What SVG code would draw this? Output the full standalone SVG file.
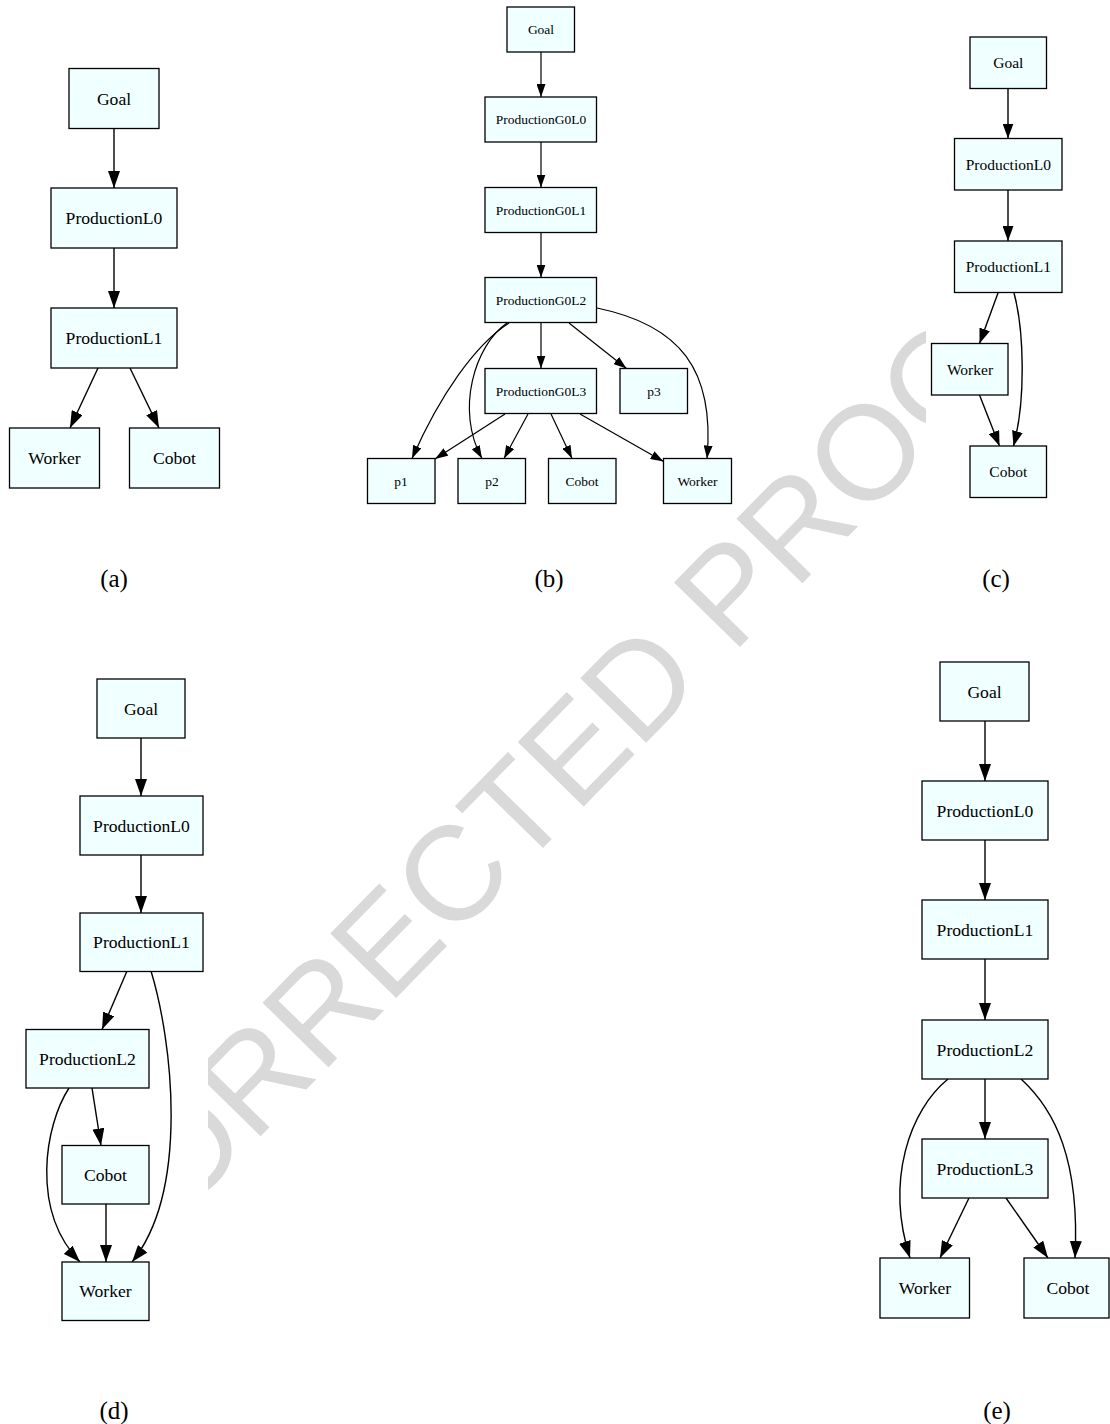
<svg xmlns="http://www.w3.org/2000/svg" width="1110" height="1424" viewBox="0 0 1110 1424">
<style>
.n rect{fill:#f0ffff;stroke:#000;stroke-width:1.3}
.n text{font-family:"Liberation Serif","Times New Roman",serif;text-anchor:middle;fill:#000}
.L text{font-size:17.6px}
.M text{font-size:15.5px}
.S text{font-size:13.5px}
.e path{fill:none;stroke:#000;stroke-width:1.4}
.eA path{marker-end:url(#arrA)}
.eC path{marker-end:url(#arrC)}
.eB path{marker-end:url(#arrB);stroke-width:1.2}
.cap{font-family:"Liberation Serif","Times New Roman",serif;font-size:25px;text-anchor:middle;fill:#000}
.wm{font-family:"Liberation Sans",Arial,sans-serif;font-size:134px;fill:#d9d9d9}
</style>
<defs>
<marker id="arrA" markerUnits="userSpaceOnUse" markerWidth="17" markerHeight="12" refX="17" refY="6" orient="auto"><path d="M0,0 L17,6 L0,12 Z" fill="#000"/></marker>
<marker id="arrC" markerUnits="userSpaceOnUse" markerWidth="15" markerHeight="11" refX="15" refY="5.5" orient="auto"><path d="M0,0 L15,5.5 L0,11 Z" fill="#000"/></marker>
<marker id="arrB" markerUnits="userSpaceOnUse" markerWidth="13" markerHeight="9" refX="13" refY="4.5" orient="auto"><path d="M0,0 L13,4.5 L0,9 Z" fill="#000"/></marker>
<clipPath id="wmclip"><rect x="208" y="0" width="718" height="1424"/></clipPath>
</defs>
<rect width="1110" height="1424" fill="#fff"/>
<g id="watermark" clip-path="url(#wmclip)">
<text class="wm" x="-23" y="1426" transform="rotate(-45.6 -23 1426)">UNCORRECTED PROOF</text>
</g>

<!-- Panel (a) -->
<g id="panel-a">
<g id="connectors-a" class="e eA">
<path d="M114,129 L114,188"/>
<path d="M114,248 L114,308"/>
<path d="M98,368 L70,428"/>
<path d="M130,368 L159,428"/>
</g>
<g id="a-goal" class="n L"><rect x="69" y="68.5" width="90" height="60"/><text x="114" y="104.5">Goal</text></g>
<g id="a-l0" class="n L"><rect x="51" y="188" width="126" height="60"/><text x="114" y="224">ProductionL0</text></g>
<g id="a-l1" class="n L"><rect x="51" y="308" width="126" height="60"/><text x="114" y="344">ProductionL1</text></g>
<g id="a-worker" class="n L"><rect x="9.5" y="428" width="90" height="60"/><text x="54.5" y="464">Worker</text></g>
<g id="a-cobot" class="n L"><rect x="129.5" y="428" width="90" height="60"/><text x="174.5" y="464">Cobot</text></g>
<text class="cap" x="114" y="587">(a)</text>
</g>

<!-- Panel (b) -->
<g id="panel-b">
<g id="connectors-b" class="e eB">
<path d="M541,52 L541,97"/>
<path d="M541,142 L541,187.5"/>
<path d="M541,232.5 L541,277.5"/>
<path d="M541,323 L541,368.5"/>
<path d="M569,323 L626.5,368.5"/>
<path d="M509,323 C475,345 440,395 412,458.5"/>
<path d="M507,323 C475,345 455,410 482,458.5"/>
<path d="M597,308 C680,325 715,370 707,458.5"/>
<path d="M505,414 L435,459"/>
<path d="M528,414 L504,458.5"/>
<path d="M551,414 L572,458.5"/>
<path d="M580,414 L663.5,461.5"/>
</g>
<g id="b-goal" class="n S"><rect x="507" y="7" width="67.5" height="45"/><text x="541" y="34">Goal</text></g>
<g id="b-g0l0" class="n S"><rect x="485" y="97" width="111.5" height="45"/><text x="541" y="124">ProductionG0L0</text></g>
<g id="b-g0l1" class="n S"><rect x="485" y="187.5" width="111.5" height="45"/><text x="541" y="214.5">ProductionG0L1</text></g>
<g id="b-g0l2" class="n S"><rect x="485" y="277.5" width="111.5" height="45"/><text x="541" y="304.5">ProductionG0L2</text></g>
<g id="b-g0l3" class="n S"><rect x="485" y="368.5" width="111.5" height="45"/><text x="541" y="395.5">ProductionG0L3</text></g>
<g id="b-p3" class="n S"><rect x="620" y="368.5" width="67.5" height="45"/><text x="654" y="395.5">p3</text></g>
<g id="b-p1" class="n S"><rect x="367.5" y="458.5" width="67.5" height="45"/><text x="401" y="485.5">p1</text></g>
<g id="b-p2" class="n S"><rect x="458" y="458.5" width="67.5" height="45"/><text x="492" y="485.5">p2</text></g>
<g id="b-cobot" class="n S"><rect x="548.5" y="458.5" width="67.5" height="45"/><text x="582" y="485.5">Cobot</text></g>
<g id="b-worker" class="n S"><rect x="663.5" y="458.5" width="68" height="45"/><text x="697.5" y="485.5">Worker</text></g>
<text class="cap" x="549" y="587">(b)</text>
</g>

<!-- Panel (c) -->
<g id="panel-c">
<g id="connectors-c" class="e eC">
<path d="M1008,88.5 L1008,138.5"/>
<path d="M1008,190 L1008,241"/>
<path d="M998,293 L979.5,343.5"/>
<path d="M1014,293 C1024,330 1026,400 1013.5,446"/>
<path d="M979.5,395 L999.5,446"/>
</g>
<g id="c-goal" class="n M"><rect x="970" y="37" width="76.5" height="51.5"/><text x="1008.3" y="68">Goal</text></g>
<g id="c-l0" class="n M"><rect x="954.5" y="138.5" width="107.5" height="51.5"/><text x="1008.3" y="169.5">ProductionL0</text></g>
<g id="c-l1" class="n M"><rect x="954.5" y="241" width="107.5" height="51.5"/><text x="1008.3" y="272">ProductionL1</text></g>
<g id="c-worker" class="n M"><rect x="931.5" y="343.5" width="76.5" height="51.5"/><text x="970" y="374.5">Worker</text></g>
<g id="c-cobot" class="n M"><rect x="970" y="446" width="76.5" height="51.5"/><text x="1008.3" y="477">Cobot</text></g>
<text class="cap" x="996" y="587">(c)</text>
</g>

<!-- Panel (d) -->
<g id="panel-d">
<g id="connectors-d" class="e eA">
<path d="M141,738 L141,796"/>
<path d="M141,855 L141,913"/>
<path d="M127,971 L102,1029.5"/>
<path d="M151,971 C172,1040 190,1190 132,1262"/>
<path d="M92,1088 L101,1145.5"/>
<path d="M69,1088 C45,1125 30,1210 80,1262"/>
<path d="M106,1204 L106,1262"/>
</g>
<g id="d-goal" class="n L"><rect x="97" y="679" width="88" height="59"/><text x="141" y="714.5">Goal</text></g>
<g id="d-l0" class="n L"><rect x="80" y="796" width="123" height="59"/><text x="141.5" y="831.5">ProductionL0</text></g>
<g id="d-l1" class="n L"><rect x="80" y="913" width="123" height="58.5"/><text x="141.5" y="948">ProductionL1</text></g>
<g id="d-l2" class="n L"><rect x="26" y="1029.5" width="123" height="58.5"/><text x="87.5" y="1064.5">ProductionL2</text></g>
<g id="d-cobot" class="n L"><rect x="62" y="1145.5" width="87" height="58.5"/><text x="105.5" y="1180.5">Cobot</text></g>
<g id="d-worker" class="n L"><rect x="62" y="1262" width="87" height="58.5"/><text x="105.5" y="1297">Worker</text></g>
<text class="cap" x="114" y="1419">(d)</text>
</g>

<!-- Panel (e) -->
<g id="panel-e">
<g id="connectors-e" class="e eA">
<path d="M985,721 L985,781"/>
<path d="M985,840 L985,900"/>
<path d="M985,959 L985,1020"/>
<path d="M985,1079 L985,1139"/>
<path d="M948,1079 C910,1110 885,1180 910,1258"/>
<path d="M1021,1079 C1055,1110 1080,1160 1075,1258"/>
<path d="M969,1198 L940,1258"/>
<path d="M1006,1198 L1048,1258"/>
</g>
<g id="e-goal" class="n L"><rect x="940" y="662" width="89" height="59"/><text x="984.5" y="697.5">Goal</text></g>
<g id="e-l0" class="n L"><rect x="922" y="781" width="126" height="59"/><text x="985" y="816.5">ProductionL0</text></g>
<g id="e-l1" class="n L"><rect x="922" y="900" width="126" height="59"/><text x="985" y="935.5">ProductionL1</text></g>
<g id="e-l2" class="n L"><rect x="922" y="1020" width="126" height="59"/><text x="985" y="1055.5">ProductionL2</text></g>
<g id="e-l3" class="n L"><rect x="922" y="1139" width="126" height="59"/><text x="985" y="1174.5">ProductionL3</text></g>
<g id="e-worker" class="n L"><rect x="880" y="1258" width="89.5" height="60"/><text x="925" y="1294">Worker</text></g>
<g id="e-cobot" class="n L"><rect x="1024" y="1258" width="85" height="60"/><text x="1068" y="1294">Cobot</text></g>
<text class="cap" x="997" y="1419">(e)</text>
</g>
</svg>
